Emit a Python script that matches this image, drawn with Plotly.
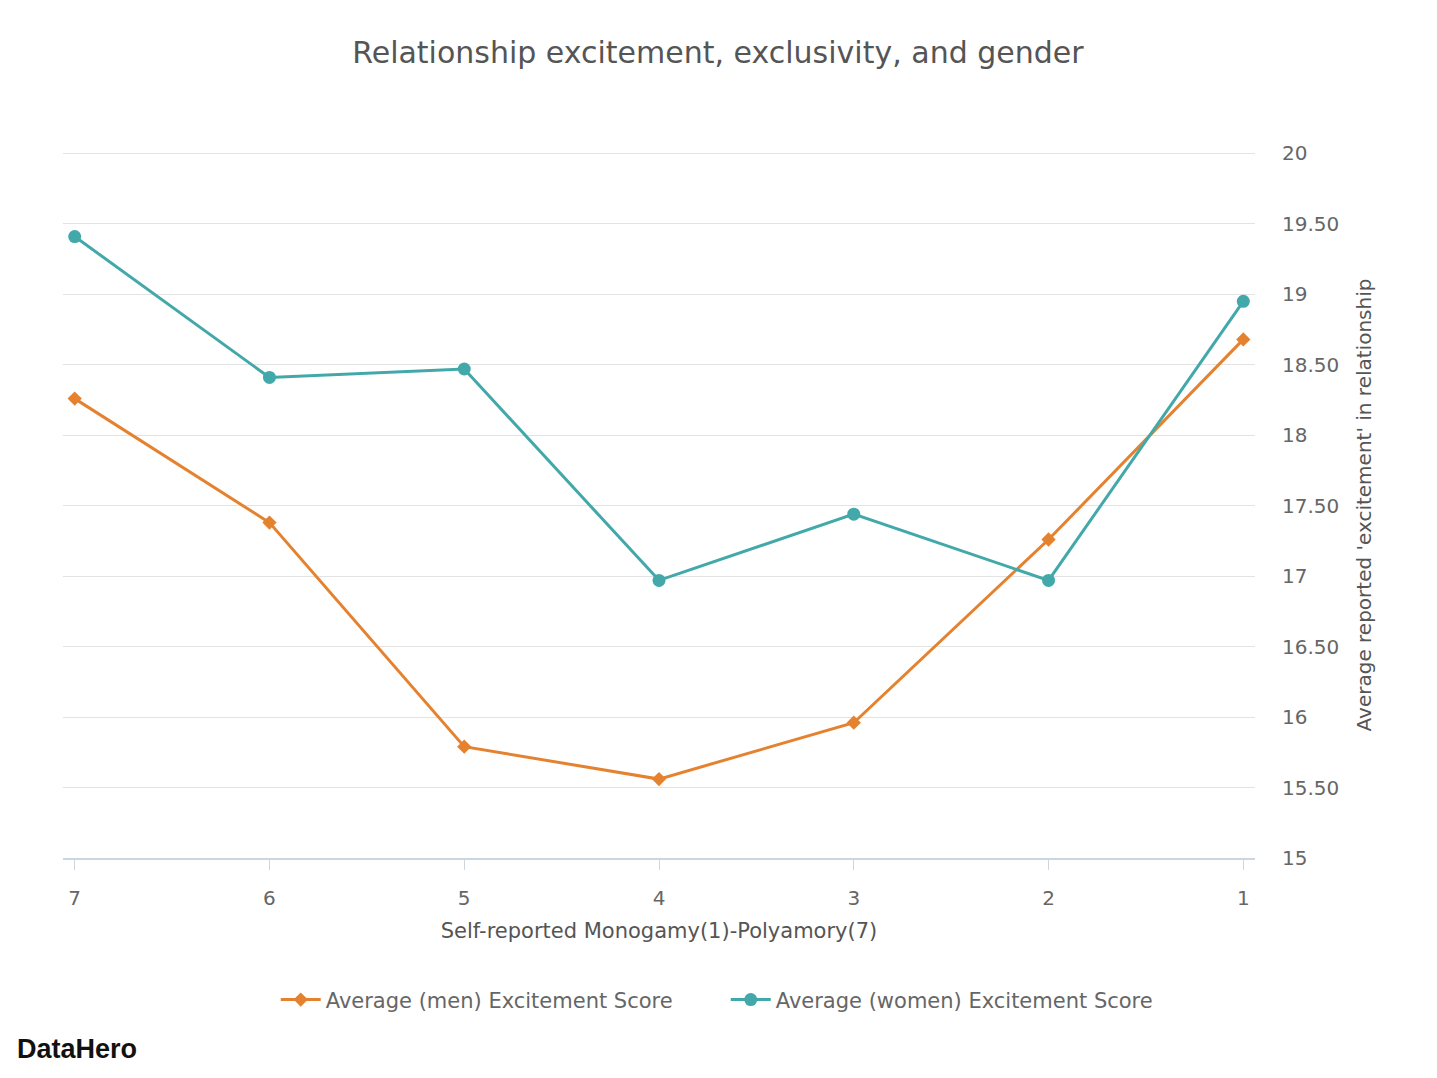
import plotly.graph_objects as go

# Self-reported Monogamy(1)-Polyamory(7) scale
scale = [7, 6, 5, 4, 3, 2, 1]
women_score = [19.41, 18.41, 18.47, 16.97, 17.44, 16.97, 18.95]
men_score = [18.26, 17.38, 15.79, 15.56, 15.96, 17.26, 18.68]

y_ticks = [15, 15.5, 16, 16.5, 17, 17.5, 18, 18.5, 19, 19.5, 20]
y_labels = ["15", "15.50", "16", "16.50", "17", "17.50", "18", "18.50", "19", "19.50", "20"]

teal = '#43a8aa'
orange = '#e5822f'
font = 'DejaVu Sans, Arial, sans-serif'

fig = go.Figure()

fig.add_trace(go.Scatter(
    x=scale, y=men_score,
    mode='lines+markers',
    name='Average (men) Excitement Score',
    line=dict(color=orange, width=3),
    marker=dict(symbol='diamond', size=11, color=orange),
))

fig.add_trace(go.Scatter(
    x=scale, y=women_score,
    mode='lines+markers',
    name='Average (women) Excitement Score',
    line=dict(color=teal, width=3),
    marker=dict(symbol='circle', size=13, color=teal),
))

fig.update_layout(
    width=1437, height=1078,
    paper_bgcolor='white', plot_bgcolor='white',
    margin=dict(l=55, r=190, t=144, b=228),
    font=dict(family=font, color='#666666', size=20),
    title=dict(
        text='Relationship excitement, exclusivity, and gender',
        x=0.494, xanchor='center', y=0.959, yanchor='middle',
        font=dict(size=30, color='#555555'),
    ),
    showlegend=True,
    legend=dict(
        orientation='h', x=0.556, xanchor='center', y=-0.201, yanchor='middle',
        font=dict(size=21, color='#666666'),
        itemwidth=40, entrywidth=395, entrywidthmode='pixels',
    ),
    xaxis=dict(
        range=[7.06, 0.94],
        tickvals=scale,
        showgrid=False,
        showline=True, linecolor='#ccd6e0', linewidth=2,
        ticks='outside', ticklen=10, tickcolor='#ccd6e0', tickwidth=1,
        ticklabelstandoff=11,
        tickfont=dict(size=20, color='#666666'),
        title=dict(text='Self-reported Monogamy(1)-Polyamory(7)',
                   font=dict(size=21, color='#555555'), standoff=14),
        zeroline=False,
    ),
    yaxis=dict(
        side='right',
        range=[15, 20.01],
        tickvals=y_ticks, ticktext=y_labels,
        showgrid=True, gridcolor='#e3e3e3', gridwidth=1,
        zeroline=False, showline=False,
        ticks='', ticklabelstandoff=26,
        tickfont=dict(size=20, color='#666666'),
        title=dict(text="Average reported 'excitement' in relationship",
                   font=dict(size=20, color='#555555'), standoff=18),
    ),
)

fig.add_annotation(
    text='<b>DataHero</b>', xref='paper', yref='paper',
    x=-0.04, y=-0.27, xanchor='left', yanchor='middle',
    showarrow=False, font=dict(size=27, color='#111111', family='Liberation Sans, Arial'),
)

fig.write_html("out.html")
